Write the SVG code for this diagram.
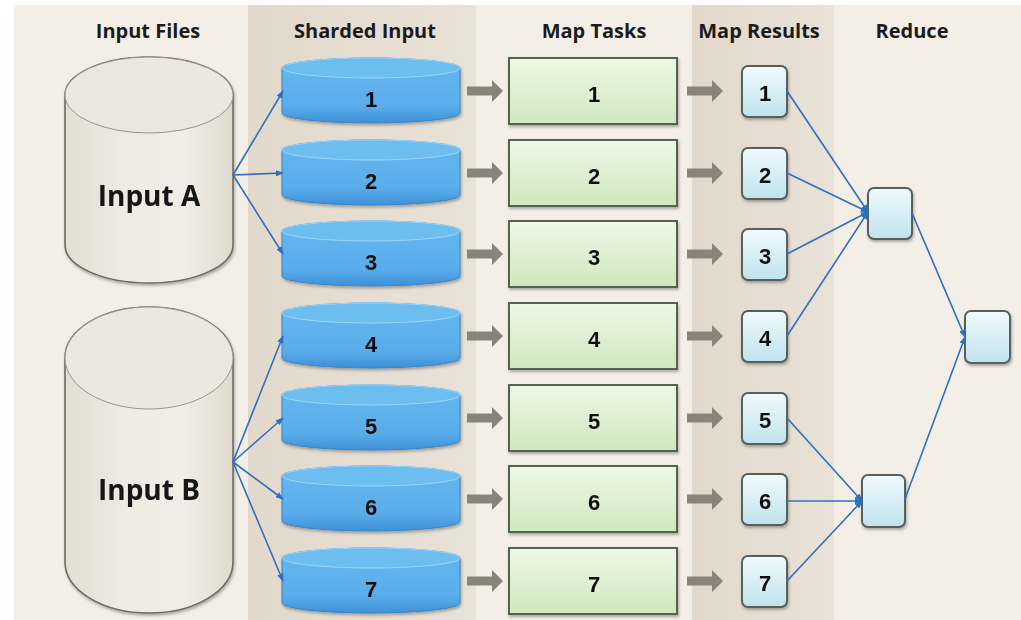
<svg xmlns="http://www.w3.org/2000/svg" width="1021" height="620" viewBox="0 0 1021 620">
  <defs>
    <style>
      .hdr { font-family: "Open Sans", "Liberation Sans", sans-serif; font-weight: 700; font-size: 20px; fill: #1b1b1b; text-anchor: middle; }
      .big { font-family: "Open Sans", "Liberation Sans", sans-serif; font-weight: 700; font-size: 28px; fill: #151515; text-anchor: middle; }
      .num { font-family: "Liberation Sans", Arial, sans-serif; font-weight: 700; font-size: 22px; fill: #111; text-anchor: middle; }
      .can-body { fill: url(#canGrad); stroke: #6f6b64; stroke-width: 1.6; }
      .can-top { fill: #ede8df; stroke: #9b968d; stroke-width: 1; }
      .disk-body { fill: url(#diskGrad); stroke: #3a86c8; stroke-width: 1; }
      .disk-top { fill: #6cbdf0; stroke: #9ad6f8; stroke-width: 1; }
      .task { fill: url(#taskGrad); stroke: #55624f; stroke-width: 2; }
      .res { fill: url(#resGrad); stroke: #55615f; stroke-width: 2; }
      .flow { fill: #8a8379; }
      .link { stroke: #2f6fc2; stroke-width: 1.6; fill: none; marker-end: url(#tip); }
    </style>
    <linearGradient id="canGrad" x1="0" y1="0" x2="1" y2="0">
      <stop offset="0" stop-color="#e3ddd2"/>
      <stop offset="0.35" stop-color="#efeae2"/>
      <stop offset="0.7" stop-color="#f2eee7"/>
      <stop offset="1" stop-color="#e0d9cd"/>
    </linearGradient>
    <linearGradient id="diskGrad" x1="0" y1="0" x2="0" y2="1">
      <stop offset="0" stop-color="#67b9ef"/>
      <stop offset="0.75" stop-color="#58acea"/>
      <stop offset="1" stop-color="#3f8fd4"/>
    </linearGradient>
    <linearGradient id="taskGrad" x1="0" y1="0" x2="0" y2="1">
      <stop offset="0" stop-color="#eef8e6"/>
      <stop offset="1" stop-color="#cfe7bf"/>
    </linearGradient>
    <linearGradient id="resGrad" x1="0" y1="0" x2="0" y2="1">
      <stop offset="0" stop-color="#f0fafd"/>
      <stop offset="1" stop-color="#c0e3ed"/>
    </linearGradient>
    <linearGradient id="colGrad" x1="0" y1="0" x2="1" y2="0">
      <stop offset="0" stop-color="#e2d9cc"/>
      <stop offset="1" stop-color="#e9e2d7"/>
    </linearGradient>
    <filter id="shadow" x="-10%" y="-10%" width="125%" height="130%">
      <feDropShadow dx="1" dy="2" stdDeviation="1.5" flood-color="#000" flood-opacity="0.3"/>
    </filter>
    <marker id="tip" viewBox="0 0 10 8" refX="9" refY="4" markerWidth="8" markerHeight="6.4" markerUnits="userSpaceOnUse" orient="auto">
      <path d="M0,0 L10,4 L0,8 Z" fill="#2f6fc2"/>
    </marker>
    <!-- thick gray flow arrow, drawn at origin and placed per row -->
    <path id="flowArrow" d="M0,-4.5 L25,-4.5 L25,-11 L36,0 L25,11 L25,4.5 L0,4.5 Z"/>
  </defs>

  <!-- page and column bands -->
  <rect x="0" y="0" width="1021" height="620" fill="#ffffff"/>
  <rect x="14" y="5" width="1007" height="615" fill="#f4efe6"/>
  <rect x="248" y="5" width="228" height="615" fill="url(#colGrad)"/>
  <rect x="692" y="5" width="142" height="615" fill="url(#colGrad)"/>

  <!-- column headers -->
  <g id="headers">
    <text class="hdr" x="148" y="38">Input Files</text>
    <text class="hdr" x="365" y="38">Sharded Input</text>
    <text class="hdr" x="594" y="38">Map Tasks</text>
    <text class="hdr" x="759" y="38">Map Results</text>
    <text class="hdr" x="912" y="38">Reduce</text>
  </g>

  <!-- input files -->
  <g id="input-a" filter="url(#shadow)">
    <path class="can-body" d="M65,95 L65,245 A84,38 0 0 0 233,245 L233,95 A84,38 0 0 0 65,95 Z"/>
    <ellipse class="can-top" cx="149" cy="95" rx="84" ry="38"/>
    <text class="big" x="149" y="206">Input A</text>
  </g>
  <g id="input-b" filter="url(#shadow)">
    <path class="can-body" d="M65,358 L65,562 A84,51 0 0 0 233,562 L233,358 A84,51 0 0 0 65,358 Z"/>
    <ellipse class="can-top" cx="149" cy="358" rx="84" ry="51"/>
    <text class="big" x="149" y="500">Input B</text>
  </g>

  <!-- sharded input disks -->
  <g id="shard-1" filter="url(#shadow)">
    <path class="disk-body" d="M282,68 L282,113 A89,10 0 0 0 460,113 L460,68 A89,10 0 0 0 282,68 Z"/>
    <ellipse class="disk-top" cx="371" cy="68" rx="89" ry="10"/>
    <text class="num" x="371" y="107">1</text>
  </g>
  <g id="shard-2" filter="url(#shadow)">
    <path class="disk-body" d="M282,150 L282,195 A89,10 0 0 0 460,195 L460,150 A89,10 0 0 0 282,150 Z"/>
    <ellipse class="disk-top" cx="371" cy="150" rx="89" ry="10"/>
    <text class="num" x="371" y="189">2</text>
  </g>
  <g id="shard-3" filter="url(#shadow)">
    <path class="disk-body" d="M282,231 L282,276 A89,10 0 0 0 460,276 L460,231 A89,10 0 0 0 282,231 Z"/>
    <ellipse class="disk-top" cx="371" cy="231" rx="89" ry="10"/>
    <text class="num" x="371" y="270">3</text>
  </g>
  <g id="shard-4" filter="url(#shadow)">
    <path class="disk-body" d="M282,313 L282,358 A89,10 0 0 0 460,358 L460,313 A89,10 0 0 0 282,313 Z"/>
    <ellipse class="disk-top" cx="371" cy="313" rx="89" ry="10"/>
    <text class="num" x="371" y="352">4</text>
  </g>
  <g id="shard-5" filter="url(#shadow)">
    <path class="disk-body" d="M282,395 L282,440 A89,10 0 0 0 460,440 L460,395 A89,10 0 0 0 282,395 Z"/>
    <ellipse class="disk-top" cx="371" cy="395" rx="89" ry="10"/>
    <text class="num" x="371" y="434">5</text>
  </g>
  <g id="shard-6" filter="url(#shadow)">
    <path class="disk-body" d="M282,476 L282,521 A89,10 0 0 0 460,521 L460,476 A89,10 0 0 0 282,476 Z"/>
    <ellipse class="disk-top" cx="371" cy="476" rx="89" ry="10"/>
    <text class="num" x="371" y="515">6</text>
  </g>
  <g id="shard-7" filter="url(#shadow)">
    <path class="disk-body" d="M282,558 L282,603 A89,10 0 0 0 460,603 L460,558 A89,10 0 0 0 282,558 Z"/>
    <ellipse class="disk-top" cx="371" cy="558" rx="89" ry="10"/>
    <text class="num" x="371" y="597">7</text>
  </g>

  <!-- map tasks -->
  <g id="task-1" filter="url(#shadow)"><rect class="task" x="509" y="58" width="168" height="66"/><text class="num" x="594" y="102">1</text></g>
  <g id="task-2" filter="url(#shadow)"><rect class="task" x="509" y="140" width="168" height="66"/><text class="num" x="594" y="184">2</text></g>
  <g id="task-3" filter="url(#shadow)"><rect class="task" x="509" y="221" width="168" height="66"/><text class="num" x="594" y="265">3</text></g>
  <g id="task-4" filter="url(#shadow)"><rect class="task" x="509" y="303" width="168" height="66"/><text class="num" x="594" y="347">4</text></g>
  <g id="task-5" filter="url(#shadow)"><rect class="task" x="509" y="385" width="168" height="66"/><text class="num" x="594" y="429">5</text></g>
  <g id="task-6" filter="url(#shadow)"><rect class="task" x="509" y="466" width="168" height="66"/><text class="num" x="594" y="510">6</text></g>
  <g id="task-7" filter="url(#shadow)"><rect class="task" x="509" y="548" width="168" height="66"/><text class="num" x="594" y="592">7</text></g>

  <!-- map results -->
  <g id="result-1" filter="url(#shadow)"><rect class="res" x="742" y="66" width="45" height="51" rx="6"/><text class="num" x="765" y="101">1</text></g>
  <g id="result-2" filter="url(#shadow)"><rect class="res" x="742" y="148" width="45" height="51" rx="6"/><text class="num" x="765" y="183">2</text></g>
  <g id="result-3" filter="url(#shadow)"><rect class="res" x="742" y="229" width="45" height="51" rx="6"/><text class="num" x="765" y="264">3</text></g>
  <g id="result-4" filter="url(#shadow)"><rect class="res" x="742" y="311" width="45" height="51" rx="6"/><text class="num" x="765" y="346">4</text></g>
  <g id="result-5" filter="url(#shadow)"><rect class="res" x="742" y="393" width="45" height="51" rx="6"/><text class="num" x="765" y="428">5</text></g>
  <g id="result-6" filter="url(#shadow)"><rect class="res" x="742" y="474" width="45" height="51" rx="6"/><text class="num" x="765" y="509">6</text></g>
  <g id="result-7" filter="url(#shadow)"><rect class="res" x="742" y="556" width="45" height="51" rx="6"/><text class="num" x="765" y="591">7</text></g>

  <!-- reducers -->
  <g id="reduce-a" filter="url(#shadow)"><rect class="res" x="868" y="188" width="44" height="51" rx="6"/></g>
  <g id="reduce-b" filter="url(#shadow)"><rect class="res" x="862" y="475" width="43" height="52" rx="6"/></g>
  <g id="reduce-final" filter="url(#shadow)"><rect class="res" x="965" y="311" width="45" height="52" rx="6"/></g>

  <!-- connectors -->
  <g id="connectors">
    <!-- input files to shards -->
    <line class="link" x1="233" y1="175" x2="283" y2="91"/>
    <line class="link" x1="233" y1="175" x2="283" y2="173"/>
    <line class="link" x1="233" y1="175" x2="283" y2="254"/>
    <line class="link" x1="233" y1="462" x2="283" y2="336"/>
    <line class="link" x1="233" y1="462" x2="283" y2="418"/>
    <line class="link" x1="233" y1="462" x2="283" y2="499"/>
    <line class="link" x1="233" y1="462" x2="283" y2="581"/>

    <!-- shards to map tasks -->
    <g class="flow">
      <use href="#flowArrow" x="467" y="91"/>
      <use href="#flowArrow" x="467" y="173"/>
      <use href="#flowArrow" x="467" y="254"/>
      <use href="#flowArrow" x="467" y="336"/>
      <use href="#flowArrow" x="467" y="418"/>
      <use href="#flowArrow" x="467" y="499"/>
      <use href="#flowArrow" x="467" y="581"/>
    </g>

    <!-- map tasks to results -->
    <g class="flow">
      <use href="#flowArrow" x="687" y="91"/>
      <use href="#flowArrow" x="687" y="173"/>
      <use href="#flowArrow" x="687" y="254"/>
      <use href="#flowArrow" x="687" y="336"/>
      <use href="#flowArrow" x="687" y="418"/>
      <use href="#flowArrow" x="687" y="499"/>
      <use href="#flowArrow" x="687" y="581"/>
    </g>

    <!-- results to reducers -->
    <line class="link" x1="787" y1="91" x2="868" y2="212"/>
    <line class="link" x1="787" y1="173" x2="868" y2="212"/>
    <line class="link" x1="787" y1="254" x2="868" y2="212"/>
    <line class="link" x1="787" y1="336" x2="868" y2="212"/>
    <line class="link" x1="787" y1="418" x2="862" y2="501"/>
    <line class="link" x1="787" y1="501" x2="862" y2="501"/>
    <line class="link" x1="787" y1="581" x2="862" y2="501"/>

    <!-- reducers to final reduce -->
    <line class="link" x1="912" y1="213" x2="965" y2="337"/>
    <line class="link" x1="905" y1="499" x2="965" y2="337"/>
  </g>
</svg>
